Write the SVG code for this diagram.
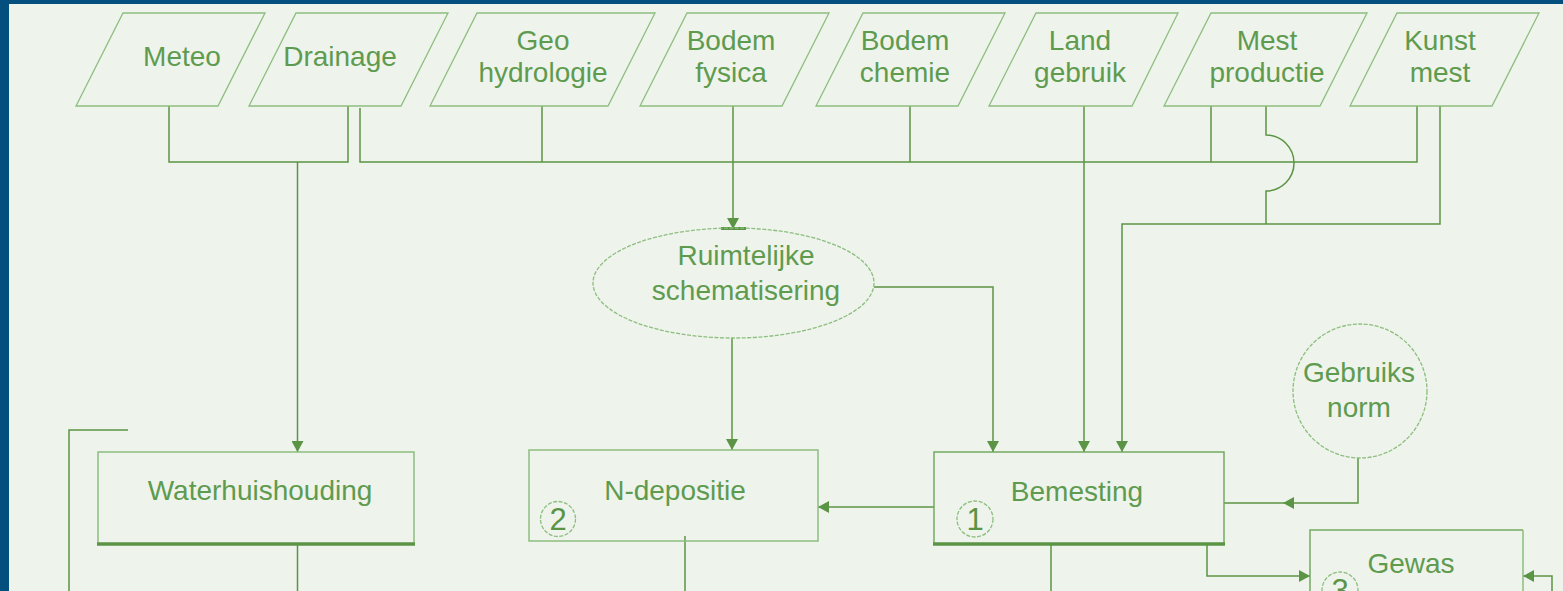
<svg xmlns="http://www.w3.org/2000/svg" width="1563" height="591" viewBox="0 0 1563 591">
<style>
.txt{font-family:"Liberation Sans",Arial,sans-serif;font-size:28px;fill:#5f9b4f;text-anchor:middle}
.num{font-family:"Liberation Sans",Arial,sans-serif;font-size:31px;fill:#5a9444;text-anchor:middle}
.para{fill:none;stroke:#8dbe7f;stroke-width:1.3}
.box{fill:none;stroke:#8dbe7f;stroke-width:1.5}
.boxd{fill:none;stroke:#74ab62;stroke-width:1.5}
.thick{stroke:#5a9444;stroke-width:3.5;fill:none}
.dash{fill:none;stroke:#8dbe7f;stroke-width:1.3;stroke-dasharray:4 1.5}
.ln{fill:none;stroke:#5b9443;stroke-width:1.5}
.arr{marker-end:url(#ah)}
</style>
<defs>
<marker id="ah" markerUnits="userSpaceOnUse" markerWidth="12" markerHeight="12" refX="11" refY="6" orient="auto">
<path d="M0,0 L11,6 L0,12 z" fill="#5a9444"/>
</marker>
</defs>
<rect x="0" y="0" width="1563" height="591" fill="#03507f"/>
<rect x="9" y="4" width="1554" height="587" fill="#eef3ec"/>

<g id="connectors">
<path class="ln" d="M169,106 V162 H348 V106"/>
<path class="ln arr" d="M297.5,162 V452"/>
<path class="ln" d="M360,108 V162 H1417 V106"/>
<path class="ln" d="M542,106 V162"/>
<path class="ln arr" d="M733,106 V229"/>
<path d="M721,228.5 H746" stroke="#5a9444" stroke-width="3"/>
<path class="ln" d="M910,106 V162"/>
<path class="ln arr" d="M1084,106 V452"/>
<path class="ln" d="M1211,106 V162"/>
<path class="ln" d="M1266,106 V135 A28,28 0 0 1 1266,191 V224"/>
<path class="ln arr" d="M1440,106 V224 H1122 V452"/>
<path class="ln arr" d="M874,287 H993 V452"/>
<path class="ln arr" d="M732,338 V450"/>
<path class="ln arr" d="M934,507 H818"/>
<path class="ln" d="M1358,458 V503 H1224"/>
<path d="M1283,503 L1294,497 L1294,509 z" fill="#5a9444"/>
<path class="ln arr" d="M1207,544 V576 H1310"/>
<path class="ln arr" d="M1552,591 V576 H1523"/>
<path class="ln" d="M297.5,544 V591"/>
<path class="ln" d="M685,536 V591"/>
<path class="ln" d="M1051,544 V591"/>
<path class="ln" d="M128,430 H69 V591"/>
</g>

<g id="meteo"><polygon class="para" points="123,13 265,13 218,106 76,106"/><text class="txt" x="182" y="66">Meteo</text></g>
<g id="drainage"><polygon class="para" points="296,13 448,13 401,106 249,106"/><text class="txt" x="340" y="66">Drainage</text></g>
<g id="geohydrologie"><polygon class="para" points="477,13 655,13 608,106 430,106"/><text class="txt" x="543" y="50">Geo</text><text class="txt" x="543" y="82">hydrologie</text></g>
<g id="bodemfysica"><polygon class="para" points="687,13 829,13 782,106 640,106"/><text class="txt" x="731" y="50">Bodem</text><text class="txt" x="731" y="82">fysica</text></g>
<g id="bodemchemie"><polygon class="para" points="863,13 1005,13 958,106 816,106"/><text class="txt" x="905" y="50">Bodem</text><text class="txt" x="905" y="82">chemie</text></g>
<g id="landgebruik"><polygon class="para" points="1036,13 1178,13 1132,106 989,106"/><text class="txt" x="1080" y="50">Land</text><text class="txt" x="1080" y="82">gebruik</text></g>
<g id="mestproductie"><polygon class="para" points="1211,13 1367,13 1320,106 1164,106"/><text class="txt" x="1267" y="50">Mest</text><text class="txt" x="1267" y="82">productie</text></g>
<g id="kunstmest"><polygon class="para" points="1397,13 1539,13 1492,106 1350,106"/><text class="txt" x="1440" y="50">Kunst</text><text class="txt" x="1440" y="82">mest</text></g>

<g id="ruimtelijke"><ellipse class="dash" cx="733.5" cy="283" rx="140.5" ry="55"/><text class="txt" x="746" y="265">Ruimtelijke</text><text class="txt" x="746" y="300">schematisering</text></g>

<g id="gebruiksnorm"><circle class="dash" cx="1360" cy="391" r="67"/><text class="txt" x="1359" y="382">Gebruiks</text><text class="txt" x="1359" y="417">norm</text></g>

<g id="waterhuishouding"><rect class="box" x="98" y="452" width="316" height="92"/><path class="thick" d="M97,544 H415"/><text class="txt" x="260" y="500">Waterhuishouding</text></g>

<g id="ndepositie"><rect class="box" x="529" y="450" width="289" height="91" stroke="#a9cf9c"/><circle class="dash" cx="558" cy="519" r="17.5"/><text class="num" x="558" y="530">2</text><text class="txt" x="675" y="500">N-depositie</text></g>

<g id="bemesting"><rect class="boxd" x="934" y="452" width="290" height="92"/><path class="thick" d="M933,544 H1225"/><circle class="dash" cx="975" cy="519" r="18"/><text class="num" x="975" y="530">1</text><text class="txt" x="1077" y="501">Bemesting</text></g>

<g id="gewas"><path class="boxd" d="M1310,600 V530 H1523"/><path class="box" d="M1523,530 V600"/><circle class="dash" cx="1340" cy="590" r="18"/><text class="num" x="1340" y="601">3</text><text class="txt" x="1411" y="573">Gewas</text></g>
</svg>
